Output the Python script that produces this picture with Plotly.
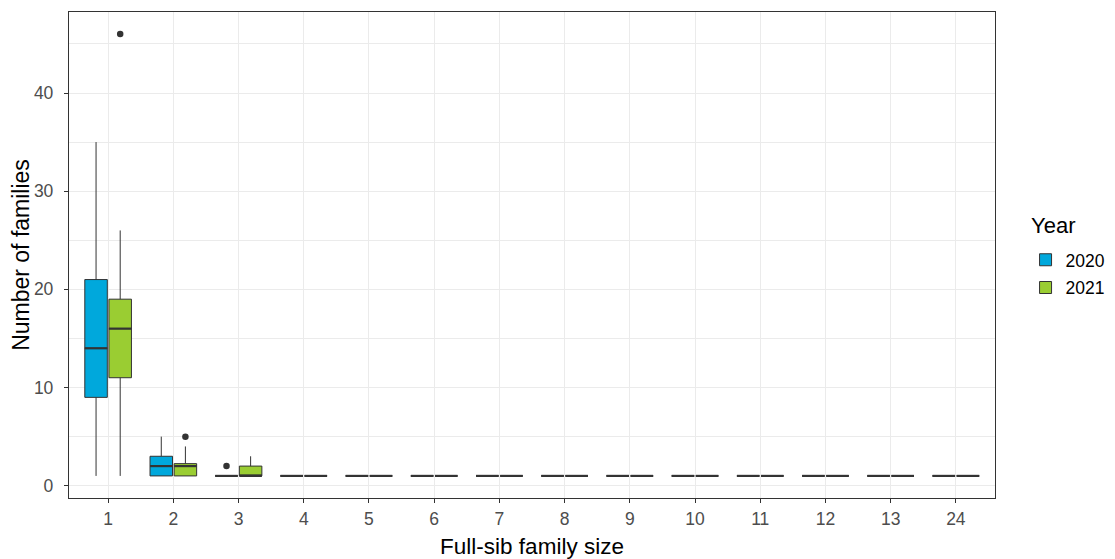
import plotly.graph_objects as go

categories = ["1", "2", "3", "4", "5", "6", "7", "8", "9", "10", "11", "12", "13", "24"]
years = ["2020", "2021"]

# precomputed box statistics per category
q1_2020 = [9, 1, 1, 1, 1, 1, 1, 1, 1, 1, 1, 1, 1, 1]
med_2020 = [14, 2, 1, 1, 1, 1, 1, 1, 1, 1, 1, 1, 1, 1]
q3_2020 = [21, 3, 1, 1, 1, 1, 1, 1, 1, 1, 1, 1, 1, 1]
lo_2020 = [1, 1, 1, 1, 1, 1, 1, 1, 1, 1, 1, 1, 1, 1]
hi_2020 = [35, 5, 1, 1, 1, 1, 1, 1, 1, 1, 1, 1, 1, 1]
out_cat_2020 = ["3"]
out_val_2020 = [2]

q1_2021 = [11, 1, 1, 1, 1, 1, 1, 1, 1, 1, 1, 1, 1, 1]
med_2021 = [16, 2, 1, 1, 1, 1, 1, 1, 1, 1, 1, 1, 1, 1]
q3_2021 = [19, 2.25, 2, 1, 1, 1, 1, 1, 1, 1, 1, 1, 1, 1]
lo_2021 = [1, 1, 1, 1, 1, 1, 1, 1, 1, 1, 1, 1, 1, 1]
hi_2021 = [26, 4, 3, 1, 1, 1, 1, 1, 1, 1, 1, 1, 1, 1]
out_cat_2021 = ["1", "2"]
out_val_2021 = [46, 5]

legend_title = "Year"
x_title = "Full-sib family size"
y_title = "Number of families"

colors = {"2020": "#00A8DC", "2021": "#9ACD32"}
outline = "#333333"
dodge = 0.185
box_w = 0.345

stats = {
    "2020": (q1_2020, med_2020, q3_2020, lo_2020, hi_2020, out_cat_2020, out_val_2020, -dodge),
    "2021": (q1_2021, med_2021, q3_2021, lo_2021, hi_2021, out_cat_2021, out_val_2021, dodge),
}

fig = go.Figure()
for yr in years:
    q1, med, q3, lo, hi, oc, ov, off = stats[yr]
    xs = [i + off for i in range(len(categories))]
    fig.add_trace(go.Box(
        x=xs, q1=q1, median=med, q3=q3, lowerfence=lo, upperfence=hi,
        name=yr, legendgroup=yr, fillcolor=colors[yr], line=dict(color=outline, width=1),
        width=box_w, whiskerwidth=0, boxpoints=False, showlegend=True,
        hoverinfo="skip",
    ))
for yr in years:
    q1, med, q3, lo, hi, oc, ov, off = stats[yr]
    mx, my = [], []
    for i, m in enumerate(med):
        c = i + off
        mx += [c - box_w / 2, c + box_w / 2, None]
        my += [m, m, None]
    fig.add_trace(go.Scatter(x=mx, y=my, mode="lines", line=dict(color=outline, width=2.2),
                             legendgroup=yr, showlegend=False, hoverinfo="skip"))
    ox = [categories.index(c) + off for c in oc]
    fig.add_trace(go.Scatter(x=ox, y=ov, mode="markers", legendgroup=yr,
                             marker=dict(color=outline, size=6.5), showlegend=False,
                             hoverinfo="skip"))

# page body has an 8px margin: figure is sized/margined so the panel lands where the reference has it
fig.update_layout(
    width=1107, height=551,
    margin=dict(l=61, r=120, t=4, b=61, autoexpand=False),
    paper_bgcolor="white", plot_bgcolor="white",
    font=dict(family="Liberation Sans, Arial, sans-serif", color="#4D4D4D", size=17.5),
    boxmode="overlay",
    legend=dict(
        x=1.033, xanchor="left", y=0.527, yanchor="top",
        font=dict(size=17.5, color="black"), tracegroupgap=2,
        bgcolor="rgba(0,0,0,0)",
    ),
    annotations=[dict(text=legend_title, xref="paper", yref="paper", x=1.037, y=0.5597,
                      xanchor="left", yanchor="middle", showarrow=False,
                      font=dict(size=22, color="black"))],
)
fig.update_xaxes(
    range=[-0.6, len(categories) - 0.4],
    tickmode="array", tickvals=list(range(len(categories))), ticktext=categories,
    showgrid=True, gridcolor="#EBEBEB", gridwidth=1,
    showline=True, mirror=True, linecolor=outline, linewidth=1.3,
    ticks="outside", ticklen=4, tickcolor=outline, ticklabelstandoff=1,
    tickfont=dict(size=17.5, color="#4D4D4D"),
    title=dict(text=x_title, font=dict(size=22.5, color="black"), standoff=11),
    zeroline=False, automargin=False,
)
fig.update_yaxes(
    range=[-1.25, 48.25],
    tickmode="linear", tick0=0, dtick=10,
    showgrid=True, gridcolor="#EBEBEB", gridwidth=1,
    minor=dict(tick0=5, dtick=10, showgrid=True, gridcolor="#EBEBEB", gridwidth=0.6),
    showline=True, mirror=True, linecolor=outline, linewidth=1.3,
    ticks="outside", ticklen=4, tickcolor=outline, ticklabelstandoff=7,
    tickfont=dict(size=17.5, color="#4D4D4D"),
    title=dict(text=y_title, font=dict(size=23, color="black"), standoff=5),
    zeroline=False, automargin=False,
)

fig.write_html("out.html")
